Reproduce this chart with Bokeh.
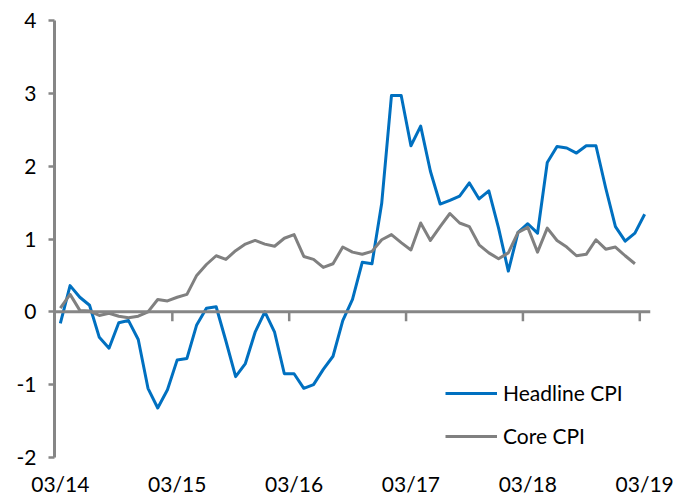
from bokeh.plotting import figure
from bokeh.models import FixedTicker, Span, Legend, LegendItem, Range1d
from bokeh.embed import file_html
from bokeh.resources import INLINE

# Monthly index: 0 = 03/14 ... 60 = 03/19
headline = [-0.16, 0.36, 0.20, 0.09, -0.35, -0.50, -0.15, -0.12, -0.38, -1.05,
            -1.32, -1.07, -0.66, -0.64, -0.18, 0.05, 0.07, -0.40, -0.89, -0.71,
            -0.28, 0.00, -0.28, -0.85, -0.85, -1.05, -1.00, -0.79, -0.61, -0.12,
            0.17, 0.68, 0.66, 1.49, 2.97, 2.97, 2.28, 2.55, 1.93, 1.48,
            1.53, 1.59, 1.77, 1.55, 1.66, 1.15, 0.56, 1.09, 1.21, 1.08,
            2.05, 2.27, 2.25, 2.18, 2.28, 2.28, 1.70, 1.17, 0.97, 1.08,
            1.34]
core = [0.05, 0.24, 0.02, 0.01, -0.05, -0.02, -0.06, -0.08, -0.06, 0.00,
        0.17, 0.15, 0.20, 0.24, 0.50, 0.65, 0.77, 0.72, 0.84, 0.93,
        0.98, 0.93, 0.90, 1.01, 1.06, 0.76, 0.72, 0.61, 0.66, 0.89,
        0.82, 0.79, 0.83, 0.99, 1.06, 0.95, 0.85, 1.22, 0.98, 1.17,
        1.35, 1.22, 1.17, 0.92, 0.81, 0.73, 0.81, 1.09, 1.16, 0.82,
        1.15, 0.98, 0.89, 0.77, 0.79, 0.99, 0.86, 0.89, 0.77, 0.66]
x_labels = ["03/14", "03/15", "03/16", "03/17", "03/18", "03/19"]
x_label_pos = [0, 12, 24, 36, 48, 60]
x_tick_pos = [11.5, 23.5, 35.5, 47.5, 59.5]
y_ticks = [-2, -1, 0, 1, 2, 3, 4]
y_labels = ["-2", "-1", "0", "1", "2", "3", "4"]

FONT = "Lato"
GRAY = "#868686"
BLUE = "#0070C0"
CORE = "#808080"

p = figure(width=676, height=502, output_backend="svg", toolbar_location=None,
           x_range=Range1d(-0.6, 60.6), y_range=Range1d(-2, 4),
           min_border_left=54, min_border_right=26, min_border_top=20,
           min_border_bottom=45)
p.outline_line_color = None
p.xgrid.visible = False
p.ygrid.visible = False

# zero axis line and its ticks
p.add_layout(Span(location=0, dimension="width", line_color=GRAY, line_width=3))
p.segment(x0=x_tick_pos, y0=[0] * len(x_tick_pos), x1=x_tick_pos,
          y1=[-0.13] * len(x_tick_pos), line_color=GRAY, line_width=2.5)

hl = p.line(list(range(len(headline))), headline, line_color=BLUE, line_width=3,
            line_join="round")
cl = p.line(list(range(len(core))), core, line_color=CORE, line_width=3,
            line_join="round")

xa = p.xaxis[0]
xa.ticker = FixedTicker(ticks=x_label_pos)
xa.major_label_overrides = {pos: lab for pos, lab in zip(x_label_pos, x_labels)}
xa.axis_line_color = None
xa.major_tick_line_color = None
xa.major_tick_in = 0
xa.major_tick_out = 0
xa.minor_tick_line_color = None
xa.major_label_standoff = 13
xa.major_label_text_font = FONT
xa.major_label_text_font_size = "21px"
xa.major_label_text_color = "black"

ya = p.yaxis[0]
ya.ticker = FixedTicker(ticks=y_ticks)
ya.major_label_overrides = {t: lab for t, lab in zip(y_ticks, y_labels)}
ya.axis_line_color = GRAY
ya.axis_line_width = 3
ya.major_tick_line_color = GRAY
ya.major_tick_line_width = 2.5
ya.major_tick_in = 0
ya.major_tick_out = 6
ya.minor_tick_line_color = None
ya.major_label_standoff = 12
ya.major_label_text_font = FONT
ya.major_label_text_font_size = "21px"
ya.major_label_text_color = "black"

legend = Legend(items=[LegendItem(label="Headline CPI", renderers=[hl]),
                       LegendItem(label="Core CPI", renderers=[cl])],
                location=(391, 9), orientation="vertical",
                glyph_width=52, glyph_height=22, label_height=22,
                label_standoff=6, spacing=18, padding=0, margin=0,
                border_line_color=None, background_fill_alpha=0,
                label_text_font=FONT, label_text_font_size="21px",
                label_text_color="black")
p.add_layout(legend, "center")

open("out.html", "w").write(file_html(p, INLINE))
